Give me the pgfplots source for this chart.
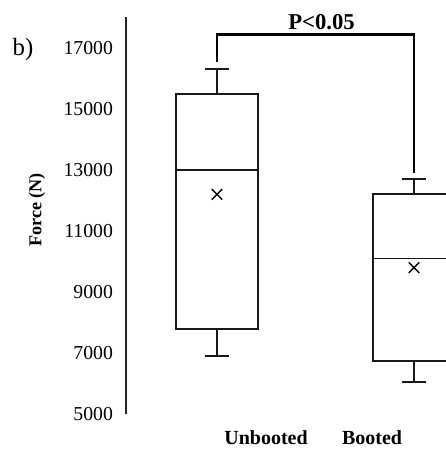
\documentclass[border=0pt]{standalone}
\usepackage{fontspec}
\setmainfont{Liberation Serif}
\usepackage{pgfplots}
\pgfplotsset{compat=1.18}
\usepgfplotslibrary{statistics}
\begin{document}
\begin{tikzpicture}
\begin{axis}[
  at={(0,0)}, anchor=south west,
  scale only axis, width=240pt, height=297.4pt,
  xmin=0.5381, xmax=2.1624, ymin=5000, ymax=18000,
  clip mode=individual,
  boxplot/draw direction=y,
  scaled y ticks=false,
  axis y line*=left, axis x line*=bottom,
  x axis line style={draw=none},
  y axis line style={line width=1.4pt, -, black!85},
  major tick length=0pt, tick style={draw=none},
  ytick={5000,7000,9000,11000,13000,15000,17000},
  xtick={1.249,1.787}, xticklabels={Unbooted,Booted},
  xticklabel style={font=\fontsize{15pt}{18pt}\selectfont\bfseries, yshift=-9pt},
  yticklabel style={font=\fontsize{14.8pt}{17pt}\selectfont, xshift=-6.3pt},
  /pgf/number format/assume math mode=true,
  /pgf/number format/1000 sep={},
]
\addplot+[black!90, line width=1.4pt, solid, mark=none,
  boxplot prepared={median=13000, upper quartile=15500, lower quartile=7800,
  upper whisker=16300, lower whisker=6900, draw position=1,
  box extend=0.42, whisker extend=0.122}] coordinates {};
\addplot+[black!90, line width=1.4pt, solid, mark=none,
  boxplot prepared={median=10100, upper quartile=12200, lower quartile=6750,
  upper whisker=12700, lower whisker=6050, draw position=2,
  box extend=0.42, whisker extend=0.122}] coordinates {};
\addplot[only marks, mark=x, mark size=5.6pt, mark options={black, line width=1pt}]
  coordinates {(1,12200) (2,9800)};
\addplot[black, line width=2.2pt, mark=none]
  coordinates {(1,16540) (1,17430) (2,17430) (2,12910)};
\node[font=\fontsize{17pt}{20pt}\selectfont\bfseries] at (axis cs:1.531,17862) {P<0.05};
\end{axis}
\node[rotate=90, font=\fontsize{13.6pt}{16pt}\selectfont\bfseries] at (-66.75pt,153pt) {Force (N)};
\node[font=\fontsize{18.6pt}{22pt}\selectfont] at (-77.25pt,273pt) {b)};
\pgfresetboundingbox
\path[use as bounding box] (-94.5pt,-27pt) rectangle (240pt,310.5pt);
\end{tikzpicture}
\end{document}
